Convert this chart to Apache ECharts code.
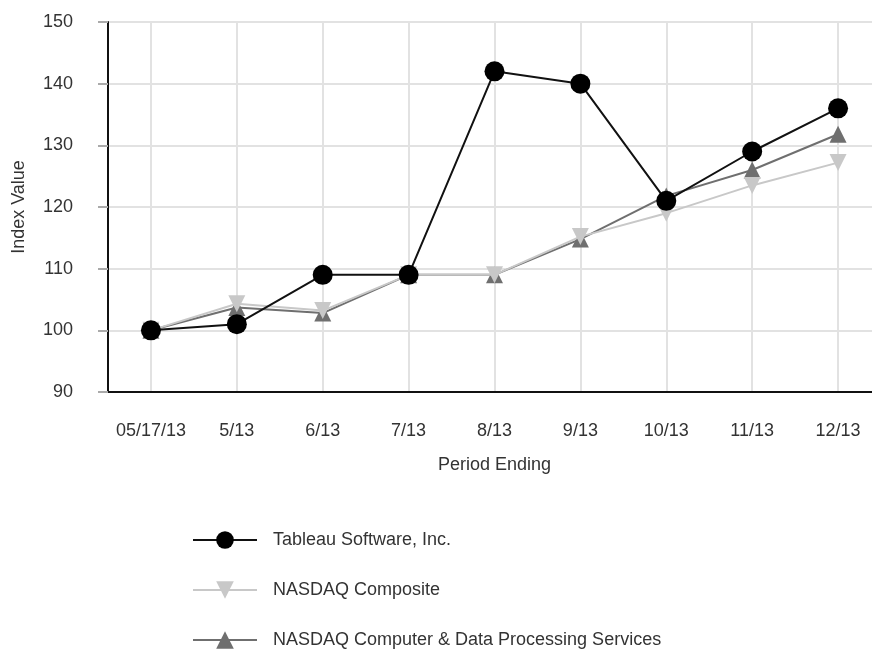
<!DOCTYPE html>
<html>
<head>
<meta charset="utf-8">
<script src="https://cdn.jsdelivr.net/npm/echarts@6/dist/echarts.min.js"></script>
<style>html,body{margin:0;padding:0;background:#fff}#c{width:872px;height:652px}</style>
</head>
<body>
<div id="c"></div>
<script>
const categories = ['05/17/13','5/13','6/13','7/13','8/13','9/13','10/13','11/13','12/13'];
const tableau = [100, 101, 109, 109, 142, 140, 121, 129, 136];
const nasdaqComposite = [100, 104.3, 103.2, 109, 109, 115.2, 119, 123.5, 127.2];
const nasdaqComputer = [100, 103.7, 102.8, 109, 109, 114.8, 121.8, 126, 131.8];
const yTicks = {min: 90, max: 150, interval: 10};

const chart = echarts.init(document.getElementById('c'));
const font = 'Liberation Sans, Arial, Helvetica, sans-serif';
chart.setOption({
  animation: false,
  textStyle: {fontFamily: font},
  grid: {left: 108, top: 22, height: 370, width: 773, containLabel: false, outerBoundsMode: 'none'},
  xAxis: {
    type: 'category', data: categories, boundaryGap: true,
    name: 'Period Ending', nameLocation: 'middle', nameGap: 64,
    nameTextStyle: {color: '#333', fontSize: 18, fontFamily: font},
    axisLine: {lineStyle: {color: '#111', width: 2}},
    axisTick: {alignWithLabel: true, length: 8, lineStyle: {color: '#333', width: 1}},
    axisLabel: {color: '#333', fontSize: 18, margin: 30, interval: 0, hideOverlap: false, fontFamily: font},
    splitLine: {show: true, alignWithLabel: true, lineStyle: {color: '#e2e2e2', width: 2}}
  },
  yAxis: {
    type: 'value', min: yTicks.min, max: yTicks.max, interval: yTicks.interval,
    name: 'Index Value', nameLocation: 'middle', nameGap: 80, nameRotate: 90,
    nameTextStyle: {color: '#333', fontSize: 18, fontFamily: font},
    axisLine: {show: true, lineStyle: {color: '#111', width: 2}},
    axisTick: {show: true, length: 10, lineStyle: {color: '#aaa', width: 2}},
    axisLabel: {color: '#333', fontSize: 18, margin: 35, fontFamily: font},
    splitLine: {show: true, lineStyle: {color: '#e2e2e2', width: 2}}
  },
  legend: {
    orient: 'vertical', left: 192, top: 531, height: 130, padding: 0, itemGap: 32, itemWidth: 64, itemHeight: 22,
    textStyle: {color: '#333', fontSize: 18, fontFamily: font, padding: [0, 0, 0, 11]},
    data: ['Tableau Software, Inc.', 'NASDAQ Composite', 'NASDAQ Computer & Data Processing Services']
  },
  series: [
    {name: 'NASDAQ Computer & Data Processing Services', type: 'line', data: nasdaqComputer, z: 2,
     symbol: 'triangle', symbolSize: 17, itemStyle: {color: '#6f6f6f'}, lineStyle: {color: '#6f6f6f', width: 2}},
    {name: 'NASDAQ Composite', type: 'line', data: nasdaqComposite, z: 3,
     symbol: 'triangle', symbolRotate: 180, symbolSize: 17, itemStyle: {color: '#c8c8c8'}, lineStyle: {color: '#c8c8c8', width: 2}},
    {name: 'Tableau Software, Inc.', type: 'line', data: tableau, z: 4,
     symbol: 'circle', symbolSize: 20, itemStyle: {color: '#000'}, lineStyle: {color: '#111', width: 2}}
  ]
});
</script>
</body>
</html>
